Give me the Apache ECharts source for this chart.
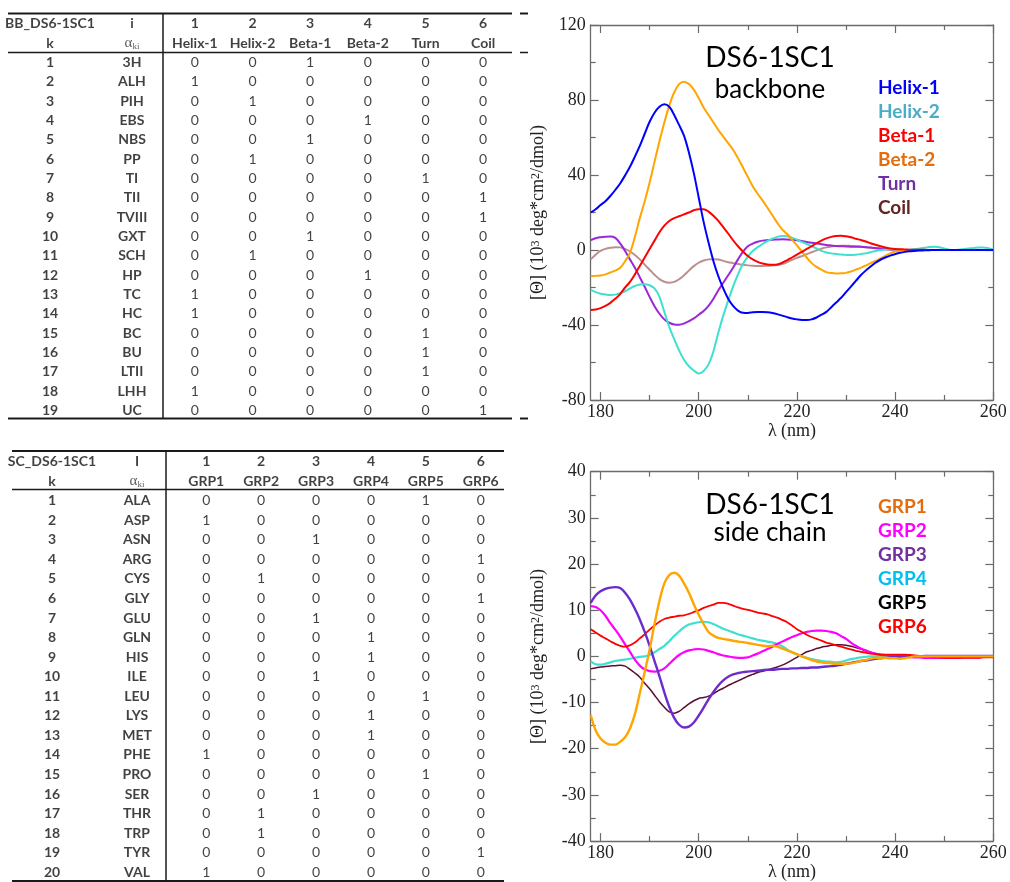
<!DOCTYPE html>
<html>
<head>
<meta charset="utf-8">
<script src="https://cdn.jsdelivr.net/npm/echarts@6/dist/echarts.min.js"></script>
<style>
html,body{margin:0;padding:0;background:#fff;}
#c{width:1010px;height:882px;}
</style>
</head>
<body>
<div id="c"></div>
<script>
// ---------------- DATA ----------------
// Backbone basis-set table
const bbTableId = 'BB_DS6-1SC1';
const bbIndexHeader = 'i';
const bbColNumbers = ['1', '2', '3', '4', '5', '6'];
const bbColNames = ['Helix-1', 'Helix-2', 'Beta-1', 'Beta-2', 'Turn', 'Coil'];
const bbRowCodes = ['3H', 'ALH', 'PIH', 'EBS', 'NBS', 'PP', 'TI', 'TII', 'TVIII', 'GXT', 'SCH', 'HP', 'TC', 'HC', 'BC', 'BU', 'LTII', 'LHH', 'UC'];
const bbMatrix = [
  [0,0,1,0,0,0],[1,0,0,0,0,0],[0,1,0,0,0,0],[0,0,0,1,0,0],[0,0,1,0,0,0],
  [0,1,0,0,0,0],[0,0,0,0,1,0],[0,0,0,0,0,1],[0,0,0,0,0,1],[0,0,1,0,0,0],
  [0,1,0,0,0,0],[0,0,0,1,0,0],[1,0,0,0,0,0],[1,0,0,0,0,0],[0,0,0,0,1,0],
  [0,0,0,0,1,0],[0,0,0,0,1,0],[1,0,0,0,0,0],[0,0,0,0,0,1]
];
// Side-chain basis-set table
const scTableId = 'SC_DS6-1SC1';
const scIndexHeader = 'I';
const scColNumbers = ['1', '2', '3', '4', '5', '6'];
const scColNames = ['GRP1', 'GRP2', 'GRP3', 'GRP4', 'GRP5', 'GRP6'];
const scRowCodes = ['ALA', 'ASP', 'ASN', 'ARG', 'CYS', 'GLY', 'GLU', 'GLN', 'HIS', 'ILE', 'LEU', 'LYS', 'MET', 'PHE', 'PRO', 'SER', 'THR', 'TRP', 'TYR', 'VAL'];
const scMatrix = [
  [0,0,0,0,1,0],[1,0,0,0,0,0],[0,0,1,0,0,0],[0,0,0,0,0,1],[0,1,0,0,0,0],
  [0,0,0,0,0,1],[0,0,1,0,0,0],[0,0,0,1,0,0],[0,0,0,1,0,0],[0,0,1,0,0,0],
  [0,0,0,0,1,0],[0,0,0,1,0,0],[0,0,0,1,0,0],[1,0,0,0,0,0],[0,0,0,0,1,0],
  [0,0,1,0,0,0],[0,1,0,0,0,0],[0,1,0,0,0,0],[0,0,0,0,0,1],[1,0,0,0,0,0]
];

// Spectra (wavelength in nm)
const wavelengths = [178,179,180,181,182,183,184,185,186,187,188,189,190,191,192,193,194,195,196,197,198,199,200,201,202,203,204,205,206,207,208,209,210,211,212,213,214,215,216,217,218,219,220,221,222,223,224,225,226,227,228,229,230,231,232,233,234,235,236,237,238,239,240,241,242,243,244,245,246,247,248,249,250,251,252,253,254,255,256,257,258,259,260];
const xMajorTicks = [180, 200, 220, 240, 260];
const xMinorTicks = [190, 210, 230, 250];

const helix1 = [20,21.7,24,26,28.8,32,35.5,39.8,44.4,49.8,
  55.5,62,68.4,73.2,76.4,77.7,76.4,72,66.7,61,
  52,41,28,15,4,-6,-14,-20.5,-26,-29.8,
  -32.3,-33.5,-33.6,-33.2,-33,-33,-33.2,-33.6,-34.2,-35,
  -35.8,-36.5,-37,-37.3,-37.3,-37,-36,-34.5,-33,-30.5,
  -28,-25.5,-22.5,-19.5,-16.5,-13.5,-11,-8.8,-6.8,-5.2,
  -4,-3,-2.2,-1.5,-1,-0.7,-0.5,-0.3,-0.2,-0.1,
  0,0,0,0,0,0,0,0,0,0,
  0,0,0];
const helix2 = [-21.3,-22.5,-23.3,-23.7,-24,-23.8,-23,-22,-20.5,-19.2,
  -18.4,-18.3,-18.8,-20.5,-25,-33,-41,-47.5,-53.5,-58.5,
  -62,-64.3,-65.8,-64.5,-61,-54,-44,-35,-27,-19.5,
  -13,-7.5,-3.5,-0.5,1.5,3.2,4.8,6,7,7.5,
  7.3,6.6,5.5,4.3,3.2,2,0.8,-0.5,-1.3,-1.8,
  -2.1,-2.4,-2.6,-2.7,-2.5,-2.2,-1.8,-1.2,-0.5,0,
  0.3,0.4,0.4,0.2,0,0.2,0.5,0.8,1.2,1.6,
  1.8,1.5,0.8,0.2,0,0.2,0.5,0.8,1.1,1.3,
  1.4,1,0.3];
const beta1 = [-32,-31.7,-31,-29.8,-28.2,-26,-23.5,-20,-17,-13,
  -8.5,-4,0.5,5,9.5,13,15.5,17,18,19,
  20,21.2,21.8,21.8,20.5,18.3,15.5,12.2,8.8,5.2,
  2,-0.8,-3.2,-5,-6.3,-7.2,-7.7,-7.8,-7.7,-6.8,
  -5.5,-4,-2.5,-1,0.6,2,3.6,5,6.2,7,
  7.5,7.6,7.3,6.8,6,5.3,4.5,3.6,2.8,2,
  1.3,0.8,0.5,0.4,0.3,0.2,0.2,0.1,0.1,0,
  0,0,0,0,0,0,0,0,0,0,
  0,0,0];
const beta2 = [-13.9,-13.8,-13.6,-13,-12,-11,-9.5,-6,-1.5,7,
  17,26,36,47,58,68,77,84,88.5,89.8,
  88.5,85.5,81,76,72,68,64,60.5,57,53.5,
  49,44,39,34,30,26.5,22.5,18.5,14.5,11,
  8.5,5.5,2.5,-0.8,-4,-7,-9,-10.5,-11.8,-12.3,
  -12.5,-12.4,-12.2,-11.5,-10.5,-9.5,-8.3,-7,-5.8,-4.5,
  -3.2,-1.8,-0.8,-0.3,0,0,0,0,0,0,
  0,0,0,0,0,0,0,0,0,0,
  0,0,0];
const turn = [5.3,6.3,6.8,7.1,7.2,6.5,3.5,-0.5,-5,-9.5,
  -14.5,-19.6,-25,-30,-34,-37,-38.8,-39.7,-39.8,-39.2,
  -38,-36.5,-34.5,-32.5,-29.8,-26,-21.5,-17.5,-13.5,-9.5,
  -5,-1,2,3.4,4.4,5,5.3,5.5,5.6,5.7,
  5.6,5.4,5.2,4.8,4.3,3.9,3.5,3.1,2.7,2.4,
  2.1,2,1.9,1.8,1.8,1.7,1.5,1.3,1.1,0.8,
  0.5,0.3,0.2,0.1,0,0,0,0,0,0,
  0,0,0,0,0,0,0,0,0,0,
  0,0,0];
const coil = [-5,-2.5,-0.5,0.6,1.2,1.5,1.4,0.6,-0.8,-2.7,
  -5,-7.8,-10.5,-13.2,-15.5,-16.9,-17.4,-17,-15.6,-13.5,
  -11,-8.6,-6.8,-5.6,-5,-4.9,-5.1,-5.8,-6.5,-7,
  -7.5,-7.9,-8.2,-8.4,-8.5,-8.5,-8.4,-8.3,-8,-7.5,
  -6.5,-5.3,-4.2,-3.3,-2.2,-1.2,-0.2,0.7,1.4,1.9,
  2.2,2.3,2.3,2.2,2,1.8,1.5,1.2,0.9,0.6,
  0.4,0.2,0.1,0,0,0,0,0,0,0,
  0,0,0,0,0,0,0,0,0,0,
  0,0,0];

const grp1 = [-12.7,-16,-17.8,-18.7,-19.1,-19.1,-18.5,-17.5,-15.6,-12.5,
  -8,-3.4,1.5,7,12,15.8,17.6,18.1,17.5,15.8,
  13.8,11.3,9,7,5.3,4.5,4,3.8,3.6,3.4,
  3.2,3.1,2.9,2.7,2.5,2.3,2.2,2.3,2.1,1.7,
  1.3,0.9,0.5,0,-0.4,-0.8,-1.1,-1.3,-1.4,-1.5,
  -1.6,-1.6,-1.6,-1.5,-1.3,-1,-0.8,-0.5,-0.3,-0.3,
  -0.3,-0.4,-0.4,-0.5,-0.4,-0.2,0,0,0,0,
  0,0,0,0,0,0,0,0,0,0,
  0,0,0];
const grp2 = [10.9,10.7,10,8.8,7.2,5.8,4.3,2.6,1,-0.7,
  -2,-2.8,-3.2,-3.3,-3.1,-2.6,-1.6,-0.6,0.3,0.9,
  1.3,1.5,1.6,1.5,1.2,0.9,0.5,0.2,0,-0.2,
  -0.3,-0.3,-0.2,0.2,0.6,1.1,1.6,2.1,2.7,3.2,
  3.7,4.2,4.6,5,5.3,5.5,5.6,5.6,5.5,5.3,
  5,4.4,3.8,3,2.3,1.7,1.3,0.9,0.6,0.4,
  0.3,0.2,0.1,0.1,0,-0.1,-0.2,-0.2,-0.3,-0.3,
  -0.3,-0.3,-0.3,-0.3,-0.3,-0.3,-0.2,-0.2,-0.2,-0.2,
  -0.1,-0.1,0];
const grp3 = [11.6,13.2,14.1,14.6,14.9,15,14.8,13.8,12.3,10.3,
  8,5.3,2.3,-1,-4.3,-7.8,-10.9,-13.3,-14.8,-15.4,
  -15.2,-14.3,-12.8,-11.1,-9.3,-7.7,-6.3,-5.2,-4.4,-3.9,
  -3.6,-3.4,-3.3,-3.2,-3.1,-3,-2.9,-2.9,-2.8,-2.7,
  -2.7,-2.6,-2.6,-2.5,-2.5,-2.4,-2.4,-2.3,-2.2,-2.1,
  -2,-1.8,-1.6,-1.4,-1.2,-1,-0.9,-0.7,-0.5,-0.4,
  -0.3,-0.2,-0.1,-0.1,0,0,0,0,0.1,0.1,
  0.1,0.1,0.1,0.1,0.1,0.1,0.1,0.1,0.1,0.1,
  0.1,0.1,0.1];
const grp4 = [-1.1,-1.7,-1.8,-1.6,-1.3,-1,-0.8,-0.7,-0.5,-0.3,
  -0.1,0,0.3,0.9,1.6,2.3,3.3,4.4,5.4,6.3,
  6.9,7.2,7.4,7.5,7.4,7,6.5,6,5.6,5.2,
  4.8,4.5,4.2,3.9,3.6,3.4,3.2,3,2.7,2.2,
  1.5,0.9,0.4,0,-0.3,-0.6,-0.8,-1,-1.1,-1.2,
  -1.3,-1.2,-0.9,-0.6,-0.4,-0.2,-0.1,0,0,0,
  0,0,0,0,0,0,0,0,0,0,
  0,0,0,0,0,0,0,0,0,0,
  0,0,0];
const grp5 = [-2.7,-2.5,-2.3,-2.2,-2.1,-2,-1.9,-2.1,-2.8,-3.6,
  -4.5,-5.8,-7,-8.4,-9.8,-11,-12,-12.3,-11.9,-11.1,
  -10.3,-9.6,-9.1,-8.9,-8.6,-8.1,-7.4,-6.9,-6.3,-5.8,
  -5.3,-4.8,-4.3,-3.9,-3.5,-3.2,-2.9,-2.6,-2.3,-1.9,
  -1.4,-0.8,-0.2,0.4,1,1.3,1.7,2,2.2,2.4,
  2.5,2.5,2.4,2.2,1.9,1.6,1.2,0.9,0.6,0.4,
  0.2,0.1,0,0,0,0,0,0,0,0,
  0,0,0,0,0,0,0,0,0,0,
  0,0,0.1];
const grp6 = [5.9,5.2,4.5,3.9,3.3,2.7,2.3,2.1,2.4,3,
  3.9,4.8,5.8,6.7,7.5,8.1,8.4,8.6,8.8,8.9,
  9.2,9.6,10,10.5,10.9,11.2,11.6,11.6,11.4,11,
  10.6,10.3,10.1,9.8,9.5,9.3,9.1,8.7,8.4,7.9,
  7.4,6.7,5.9,5.3,4.7,4.2,3.8,3.4,3,2.7,
  2.4,2.1,1.8,1.5,1.2,1,0.8,0.6,0.5,0.4,
  0.4,0.4,0.4,0.4,0.4,0.3,0.2,0.1,0,-0.1,
  -0.2,-0.2,-0.3,-0.3,-0.3,-0.3,-0.3,-0.3,-0.3,-0.3,
  -0.2,-0.2,-0.2];

// ---------------- LAYOUT / STYLE ----------------
const BB_T = {top: 14.3, rowH: 19.33, valLeft: 166, valWidth: 346, lblLeft: 9, lblWidth: 164,
  ruleL: 8, ruleR: 512, vX: 163, topRule: 13.5, headRule: 52.5, botRule: 418.5};
const SC_T = {top: 451.9, rowH: 19.63, valLeft: 178.8, valWidth: 329.4, lblLeft: 9.5, lblWidth: 170,
  ruleL: 12, ruleR: 504, vX: 166, topRule: 451, headRule: 489.5, botRule: 881};
const BB_C = {left: 590.7, top: 25, width: 402.6, height: 375};
const SC_C = {left: 590.7, top: 471.7, width: 402.6, height: 372.6};
const STUB = {x1: 520, x2: 528};

const SANS = 'Lato, "Open Sans", sans-serif';
const SERIF = '"Liberation Serif", "DejaVu Serif", serif';
const AX = '#6b6b6b';

const bbStyles = {
  'Helix-1': {line: '#0000ff', text: '#0000ff'},
  'Helix-2': {line: '#40e0d0', text: '#4bacc6'},
  'Beta-1':  {line: '#ff0000', text: '#ff0000'},
  'Beta-2':  {line: '#ffa500', text: '#e46c0a'},
  'Turn':    {line: '#9a28d8', text: '#7030a0'},
  'Coil':    {line: '#bc8f8f', text: '#632523'}
};
const scStyles = {
  'GRP1': {line: '#ffa500', text: '#e46c0a', w: 2.4},
  'GRP2': {line: '#ff00ff', text: '#ff00ff', w: 2.2},
  'GRP3': {line: '#6b2ccc', text: '#7030a0', w: 2.4},
  'GRP4': {line: '#40e0d0', text: '#00c0f0', w: 2.2},
  'GRP5': {line: '#5a0c32', text: '#000000', w: 1.5},
  'GRP6': {line: '#ff0000', text: '#ff0000', w: 1.8}
};

// ---------------- BUILD ----------------
function rowCats(n) { const a = []; for (let i = 0; i < n; i++) a.push('r' + i); return a; }

function valueCells(colNums, colNames, matrix) {
  const d = [];
  colNums.forEach((c, i) => d.push({value: [i, 0], text: c, label: {fontWeight: 'bold'}}));
  colNames.forEach((c, i) => d.push({value: [i, 1], text: c, label: {fontWeight: 'bold'}}));
  matrix.forEach((row, r) => row.forEach((v, i) => d.push({value: [i, r + 2], text: String(v), label: {fontWeight: 'normal'}})));
  return d;
}
function labelCells(tableId, idxHeader, codes) {
  const d = [];
  d.push({value: [0, 0], text: tableId, label: {fontWeight: 'bold'}});
  d.push({value: [1, 0], text: idxHeader, label: {fontWeight: 'bold'}});
  d.push({value: [0, 1], text: 'k', label: {fontWeight: 'bold'}});
  d.push({value: [1, 1], text: '{a|α}{s|ki}', label: {fontWeight: 'normal'}});
  codes.forEach((c, r) => {
    d.push({value: [0, r + 2], text: String(r + 1), label: {fontWeight: 'bold'}});
    d.push({value: [1, r + 2], text: c, label: {fontWeight: 'bold'}});
  });
  return d;
}
function tableSeries(xi, yi, data) {
  return {
    type: 'scatter', xAxisIndex: xi, yAxisIndex: yi, silent: true, symbolSize: 1,
    itemStyle: {color: 'rgba(0,0,0,0)'}, emphasis: {disabled: true},
    label: {
      show: true, position: 'inside', formatter: p => p.data.text,
      fontFamily: SANS, fontSize: 14, color: '#111',
      rich: {
        a: {fontFamily: SERIF, fontSize: 15, color: '#333', lineHeight: 16},
        s: {fontFamily: SERIF, fontSize: 9, color: '#333', verticalAlign: 'bottom', lineHeight: 16, padding: [7, 0, 0, 0]}
      }
    },
    data: data
  };
}
function catX(gi, n) { return {type: 'category', gridIndex: gi, data: rowCats(n), show: false, boundaryGap: true}; }
function catY(gi, n) { return {type: 'category', gridIndex: gi, data: rowCats(n), show: false, inverse: true, boundaryGap: true}; }

function chartXAxes(gi) {
  const base = {type: 'value', gridIndex: gi, min: 178, max: 260, splitLine: {show: false}};
  return [
    Object.assign({}, base, {position: 'bottom',
      axisLine: {show: true, onZero: false, lineStyle: {color: AX, width: 1.3}},
      axisTick: {show: true, inside: true, length: 8, customValues: xMajorTicks, lineStyle: {color: AX, width: 1.2}},
      axisLabel: {show: true, customValues: xMajorTicks, fontFamily: SERIF, fontSize: 18, color: '#222', margin: 3},
      name: 'λ (nm)', nameLocation: 'middle', nameGap: 21,
      nameTextStyle: {fontFamily: SERIF, fontSize: 18, color: '#222'}}),
    Object.assign({}, base, {position: 'bottom',
      axisLine: {show: false, onZero: false},
      axisTick: {show: true, inside: true, length: 5, customValues: xMinorTicks, lineStyle: {color: AX, width: 1.2}},
      axisLabel: {show: false}}),
    Object.assign({}, base, {position: 'top',
      axisLine: {show: true, onZero: false, lineStyle: {color: AX, width: 1.3}},
      axisTick: {show: true, inside: true, length: 8, customValues: xMajorTicks, lineStyle: {color: AX, width: 1.2}},
      axisLabel: {show: false}}),
    Object.assign({}, base, {position: 'top',
      axisLine: {show: false, onZero: false},
      axisTick: {show: true, inside: true, length: 5, customValues: xMinorTicks, lineStyle: {color: AX, width: 1.2}},
      axisLabel: {show: false}})
  ];
}
function chartYAxes(gi, min, max, interval) {
  const base = {type: 'value', gridIndex: gi, min: min, max: max, interval: interval,
    splitLine: {show: false}, minorSplitLine: {show: false},
    axisLine: {show: true, onZero: false, lineStyle: {color: AX, width: 1.3}},
    axisTick: {show: true, inside: true, length: 8, lineStyle: {color: AX, width: 1.2}},
    minorTick: {show: true, splitNumber: 2, length: 5, lineStyle: {color: AX, width: 1.2}}};
  return [
    Object.assign({}, base, {position: 'left',
      axisLabel: {show: true, fontFamily: SERIF, fontSize: 18, color: '#222', margin: 5},
      name: '[Θ] (10{sup|3} deg*cm{sup|2}/dmol)', nameLocation: 'middle', nameGap: 43,
      nameTextStyle: {fontFamily: SERIF, fontSize: 18, color: '#222',
        rich: {sup: {fontFamily: SERIF, fontSize: 12, color: '#222', verticalAlign: 'top', lineHeight: 18, padding: [0, 0, 6, 0]}}}}),
    Object.assign({}, base, {position: 'right', axisLabel: {show: false}})
  ];
}
function lineSeries(name, xi, yi, vals, color, width) {
  return {
    type: 'line', name: name, xAxisIndex: xi, yAxisIndex: yi, silent: true,
    data: wavelengths.map((w, i) => [w, vals[i]]),
    symbol: 'none', smooth: 0.35,
    lineStyle: {color: color, width: width}, itemStyle: {color: color}
  };
}
function legendFor(names, styles, top) {
  return {
    orient: 'vertical', left: 868, top: top, icon: 'none', itemWidth: 0, itemHeight: 10, itemGap: 0,
    selectedMode: false,
    textStyle: {fontFamily: SANS, fontSize: 19, fontWeight: 'bold', lineHeight: 24},
    data: names.map(n => ({name: n, textStyle: {color: styles[n].text}}))
  };
}
function hline(y, x1, x2, w) {
  return {type: 'line', silent: true, shape: {x1: x1, y1: y, x2: x2, y2: y}, style: {stroke: '#1a1a1a', lineWidth: w}};
}
function vline(x, y1, y2, w) {
  return {type: 'line', silent: true, shape: {x1: x, y1: y1, x2: x, y2: y2}, style: {stroke: '#1a1a1a', lineWidth: w}};
}
function ttext(txt, x, y, size) {
  return {type: 'text', silent: true, x: x, y: y,
    style: {text: txt, fontFamily: SANS, fontSize: size, fill: '#000', align: 'center', verticalAlign: 'middle'}};
}

const bbRows = bbRowCodes.length + 2;
const scRows = scRowCodes.length + 2;

const option = {
  animation: false,
  backgroundColor: '#ffffff',
  grid: [
    {left: BB_T.valLeft, top: BB_T.top, width: BB_T.valWidth, height: BB_T.rowH * bbRows},
    {left: BB_T.lblLeft, top: BB_T.top, width: BB_T.lblWidth, height: BB_T.rowH * bbRows},
    {left: BB_C.left, top: BB_C.top, width: BB_C.width, height: BB_C.height},
    {left: SC_T.valLeft, top: SC_T.top, width: SC_T.valWidth, height: SC_T.rowH * scRows},
    {left: SC_T.lblLeft, top: SC_T.top, width: SC_T.lblWidth, height: SC_T.rowH * scRows},
    {left: SC_C.left, top: SC_C.top, width: SC_C.width, height: SC_C.height}
  ],
  xAxis: [
    catX(0, 6), catX(1, 2)
  ].concat(chartXAxes(2)).concat([catX(3, 6), catX(4, 2)]).concat(chartXAxes(5)),
  yAxis: [
    catY(0, bbRows), catY(1, bbRows)
  ].concat(chartYAxes(2, -80, 120, 40)).concat([catY(3, scRows), catY(4, scRows)]).concat(chartYAxes(5, -40, 40, 10)),
  legend: [
    legendFor(bbColNames, bbStyles, 71.3),
    legendFor(scColNames, scStyles, 489.7)
  ],
  series: [
    tableSeries(0, 0, valueCells(bbColNumbers, bbColNames, bbMatrix)),
    tableSeries(1, 1, labelCells(bbTableId, bbIndexHeader, bbRowCodes)),
    tableSeries(6, 4, valueCells(scColNumbers, scColNames, scMatrix)),
    tableSeries(7, 5, labelCells(scTableId, scIndexHeader, scRowCodes)),
    lineSeries('Coil', 2, 2, coil, bbStyles['Coil'].line, 2),
    lineSeries('Turn', 2, 2, turn, bbStyles['Turn'].line, 2),
    lineSeries('Helix-2', 2, 2, helix2, bbStyles['Helix-2'].line, 2),
    lineSeries('Beta-2', 2, 2, beta2, bbStyles['Beta-2'].line, 2),
    lineSeries('Beta-1', 2, 2, beta1, bbStyles['Beta-1'].line, 2),
    lineSeries('Helix-1', 2, 2, helix1, bbStyles['Helix-1'].line, 2),
    lineSeries('GRP5', 8, 6, grp5, scStyles['GRP5'].line, scStyles['GRP5'].w),
    lineSeries('GRP4', 8, 6, grp4, scStyles['GRP4'].line, scStyles['GRP4'].w),
    lineSeries('GRP2', 8, 6, grp2, scStyles['GRP2'].line, scStyles['GRP2'].w),
    lineSeries('GRP6', 8, 6, grp6, scStyles['GRP6'].line, scStyles['GRP6'].w),
    lineSeries('GRP3', 8, 6, grp3, scStyles['GRP3'].line, scStyles['GRP3'].w),
    lineSeries('GRP1', 8, 6, grp1, scStyles['GRP1'].line, scStyles['GRP1'].w)
  ],
  graphic: [
    hline(BB_T.topRule, BB_T.ruleL, BB_T.ruleR, 2),
    hline(BB_T.headRule, BB_T.ruleL, BB_T.ruleR, 1.5),
    hline(BB_T.botRule, BB_T.ruleL, BB_T.ruleR, 2),
    vline(BB_T.vX, BB_T.topRule, BB_T.botRule, 1.5),
    hline(BB_T.topRule, STUB.x1, STUB.x2, 2),
    hline(BB_T.headRule, STUB.x1, STUB.x2, 1.5),
    hline(BB_T.botRule, STUB.x1, STUB.x2, 2),
    hline(SC_T.topRule, SC_T.ruleL, SC_T.ruleR, 2),
    hline(SC_T.headRule, SC_T.ruleL, SC_T.ruleR, 1.5),
    hline(SC_T.botRule, SC_T.ruleL, SC_T.ruleR, 2),
    vline(SC_T.vX, SC_T.topRule, SC_T.botRule, 1.5),
    ttext('DS6-1SC1', 770, 58, 28),
    ttext('backbone', 770, 90, 26),
    ttext('DS6-1SC1', 770, 505, 28),
    ttext('side chain', 770, 533, 26)
  ]
};

const chart = echarts.init(document.getElementById('c'), null, {renderer: 'canvas'});
chart.setOption(option);
</script>
</body>
</html>
